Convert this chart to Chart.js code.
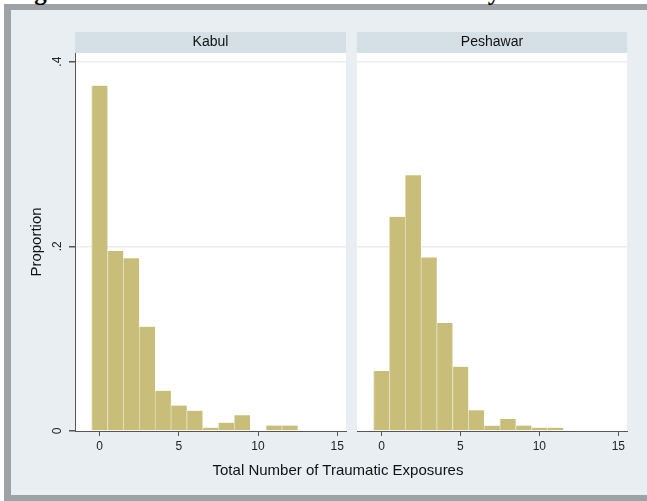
<!DOCTYPE html>
<html>
<head>
<meta charset="utf-8">
<script src="https://cdn.jsdelivr.net/npm/chart.js@4.4.1/dist/chart.umd.min.js"></script>
<style>
  html, body { margin: 0; padding: 0; background: #e8eef2; overflow: hidden; }
  #wrap { position: relative; width: 647px; height: 501px; overflow: hidden; background: #fff;
          font-family: "Liberation Sans", Arial, sans-serif; }
  #frame { position: absolute; left: 4px; top: 4px; right: 0; bottom: 0; background: #9da2a7; }
  #inner { position: absolute; left: 11px; top: 10px; right: 0; bottom: 6px; background: #e8eef2; }
  #fig-title { position: absolute; left: 12px; top: -22px; line-height: 25px; white-space: nowrap;
               font: bold 25px "Liberation Serif", "Times New Roman", serif; color: #000; }
  #xtitle { position: absolute; left: 0; top: 461px; width: 676px; line-height: 18px;
            text-align: center; font-size: 15px; color: #111; }
  canvas { position: absolute; top: 0; }
</style>
</head>
<body>
<div id="wrap">
  <div id="frame"></div>
  <div id="inner"></div>
  <div id="fig-title">Figure 1. Distribution of Traumatic Events by Site</div>
  <canvas id="kabul" width="351" height="501" style="left:0"></canvas>
  <canvas id="peshawar" width="296" height="501" style="left:351px"></canvas>
  <div id="xtitle">Total Number of Traumatic Exposures</div>
</div>
<script>
// histogram bins (width 1, centred on the integer)
const kabulBins = [0, 1, 2, 3, 4, 5, 6, 7, 8, 9, 10, 11, 12];
const kabulValues = [0.374, 0.195, 0.187, 0.113, 0.0435, 0.0275, 0.022, 0.0036, 0.009, 0.017, 0, 0.006, 0.006];

const peshawarBins = [0, 1, 2, 3, 4, 5, 6, 7, 8, 9, 10, 11];
const peshawarValues = [0.065, 0.232, 0.277, 0.188, 0.117, 0.0696, 0.0225, 0.0058, 0.013, 0.006, 0.0036, 0.0036];

const xTicks = [0, 5, 10, 15];
const yTicks = [0, 0.2, 0.4];
const yTickLabels = ['0', '.2', '.4'];

Chart.defaults.font.family = '"Liberation Sans", Arial, sans-serif';

const barFill = '#c8be7a';
const barEdge = '#e3dfbb';
const axisColor = '#555';

// white plot region + grey panel header
const panelPlugin = {
    id: 'panel',
    beforeDraw(chart, args, opts) {
        const a = chart.chartArea;
        const c = chart.ctx;
        c.save();
        c.fillStyle = '#ffffff';
        c.fillRect(a.left, a.top, a.right - a.left, a.bottom - a.top);
        c.fillStyle = '#d5e0e6';
        c.fillRect(a.left, a.top - 21, a.right - a.left, 21);
        c.fillStyle = '#111';
        c.font = '14px "Liberation Sans", Arial, sans-serif';
        c.textAlign = 'center';
        c.textBaseline = 'middle';
        c.fillText(opts.text, (a.left + a.right) / 2, a.top - 10.5);
        c.restore();
    }
};

function makeChart(id, name, bins, values, showY, pad) {
    const pts = bins.map((b, i) => ({ x: b, y: values[i] }));
    return new Chart(document.getElementById(id), {
        type: 'bar',
        data: {
            datasets: [{
                label: name,
                data: pts,
                backgroundColor: barFill,
                borderColor: barEdge,
                borderWidth: { left: 1, right: 0, top: 0, bottom: 0 },
                borderSkipped: false,
                barPercentage: 1,
                categoryPercentage: 1
            }]
        },
        options: {
            responsive: false,
            animation: false,
            devicePixelRatio: 1,
            layout: { padding: pad },
            plugins: {
                legend: { display: false },
                tooltip: { enabled: false },
                panel: { text: name }
            },
            scales: {
                x: {
                    type: 'linear',
                    min: -1.55,
                    max: 15.55,
                    offset: false,
                    afterBuildTicks: (s) => { s.ticks = xTicks.map(v => ({ value: v })); },
                    afterFit: (s) => { s.height = 30; },
                    grid: { offset: false, drawOnChartArea: false, drawTicks: true, tickLength: 5, tickColor: axisColor },
                    border: { display: true, color: axisColor, width: 1 },
                    ticks: { padding: 3, color: '#222', font: { size: 12 }, maxRotation: 0 }
                },
                y: {
                    min: 0,
                    max: 0.4094,
                    afterBuildTicks: (s) => { s.ticks = yTicks.map(v => ({ value: v })); },
                    afterFit: (s) => { s.width = showY ? 63 : 0; },
                    grid: {
                        color: (ctx) => ctx.tick && ctx.tick.value === 0 ? 'rgba(0,0,0,0)' : '#ececec',
                        lineWidth: 1.5,
                        drawTicks: showY,
                        tickLength: 6,
                        tickColor: axisColor
                    },
                    border: { display: showY, color: axisColor, width: 1 },
                    ticks: {
                        display: showY,
                        minRotation: 90,
                        maxRotation: 90,
                        crossAlign: 'center',
                        padding: 6,
                        color: '#222',
                        font: { size: 12 },
                        callback: (v) => yTickLabels[yTicks.indexOf(v)]
                    },
                    title: {
                        display: showY,
                        text: 'Proportion',
                        color: '#111',
                        font: { size: 15 },
                        padding: { top: 16, bottom: 0 }
                    }
                }
            }
        },
        plugins: [panelPlugin]
    });
}

makeChart('kabul', 'Kabul', kabulBins, kabulValues, true, { left: 12, right: 5, top: 53, bottom: 40 });
makeChart('peshawar', 'Peshawar', peshawarBins, peshawarValues, false, { left: 6, right: 20, top: 53, bottom: 40 });
</script>
</body>
</html>
